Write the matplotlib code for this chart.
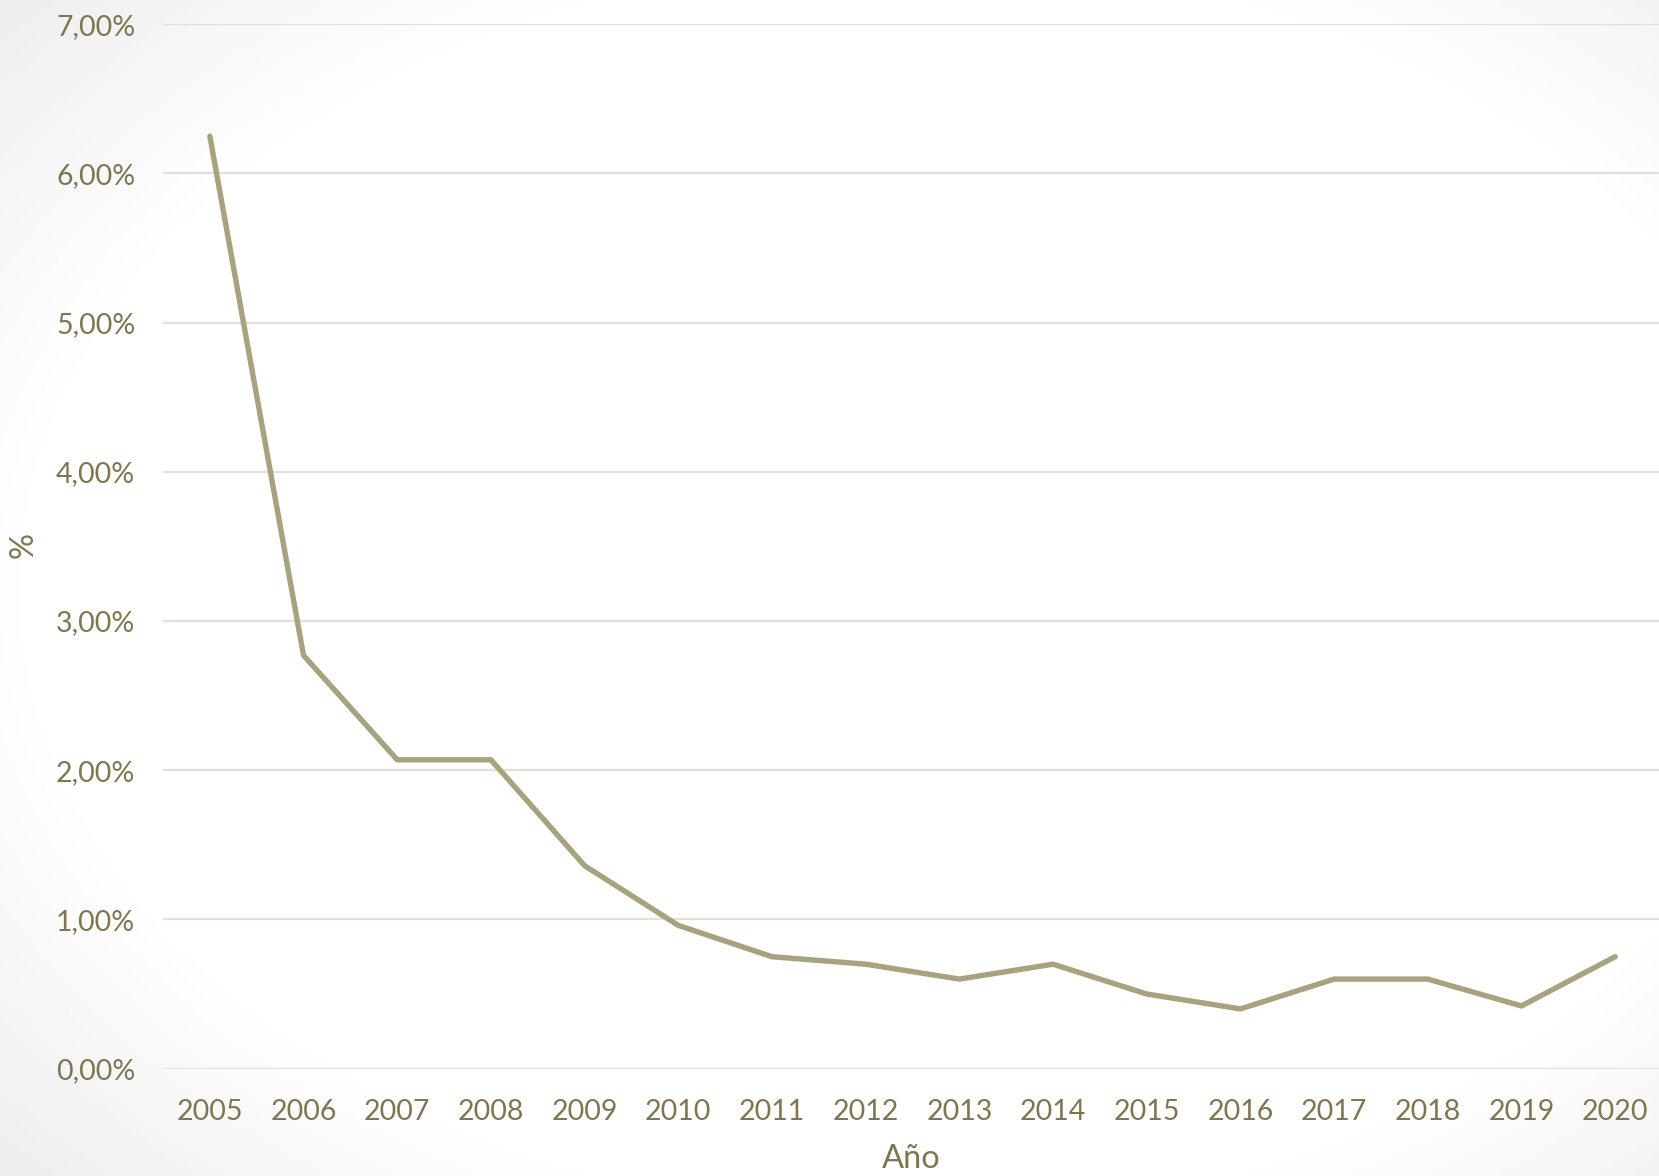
import numpy as np
import matplotlib
matplotlib.use("Agg")
import matplotlib.pyplot as plt

years = ["2005", "2006", "2007", "2008", "2009", "2010", "2011", "2012",
         "2013", "2014", "2015", "2016", "2017", "2018", "2019", "2020"]
values = [6.25, 2.77, 2.07, 2.07, 1.36, 0.96, 0.75, 0.70,
          0.60, 0.70, 0.50, 0.40, 0.60, 0.60, 0.42, 0.75]
yticks = [0, 1, 2, 3, 4, 5, 6, 7]
ytick_labels = ["0,00%", "1,00%", "2,00%", "3,00%", "4,00%", "5,00%", "6,00%", "7,00%"]

W, H = 1659, 1176
fig = plt.figure(figsize=(W / 100, H / 100), dpi=100)

# background vignette
bg = fig.add_axes([0, 0, 1, 1])
yy, xx = np.mgrid[0:1:300j, 0:1:400j]
r = np.sqrt(((xx - 0.55) / 0.62) ** 2 + ((yy - 0.5) / 0.62) ** 2)
shade = np.clip((r - 0.85) / 0.45, 0, 1)
img = 1 - 0.09 * shade
bg.imshow(img, cmap="gray", vmin=0, vmax=1, extent=[0, 1, 0, 1], aspect="auto", origin="lower")
bg.axis("off")

text_color = "#80754F"
line_color = "#A8A27E"
grid_color = "#E4E0D6"
fs = 20.5
fs_label = 23.5

left = 163 / W
right = 1662 / W
bottom = 1 - 1068.6 / H
top = 1 - 24.3 / H
ax = fig.add_axes([left, bottom, right - left, top - bottom])
ax.patch.set_alpha(0)

x = np.arange(len(years))
ax.plot(x, values, color=line_color, lw=3.9, solid_capstyle="round",
        solid_joinstyle="round", zorder=3)

ax.set_xlim(-0.5, len(years) - 0.5)
ax.set_ylim(0, 7)
ax.set_yticks(yticks)
ax.set_yticklabels(ytick_labels)
ax.set_xticks(x)
ax.set_xticklabels(years)
for v in yticks:
    ax.axhline(v, color=grid_color, lw=1.6, zorder=1)

for s in ax.spines.values():
    s.set_visible(False)
ax.tick_params(axis="both", length=0, colors=text_color, labelsize=fs)
ax.tick_params(axis="y", pad=20)
ax.tick_params(axis="x", pad=22)
for lab in ax.get_xticklabels() + ax.get_yticklabels():
    lab.set_fontfamily("Lato")

fig.text(24 / W, 1 - 545 / H, "%", rotation=90, ha="center", va="center",
         color=text_color, fontsize=fs_label, fontfamily="Lato")
fig.text(911 / W, 1 - 1159 / H, "Año", ha="center", va="center",
         color=text_color, fontsize=fs_label, fontfamily="Lato")

fig.savefig("out.png", dpi=100)
